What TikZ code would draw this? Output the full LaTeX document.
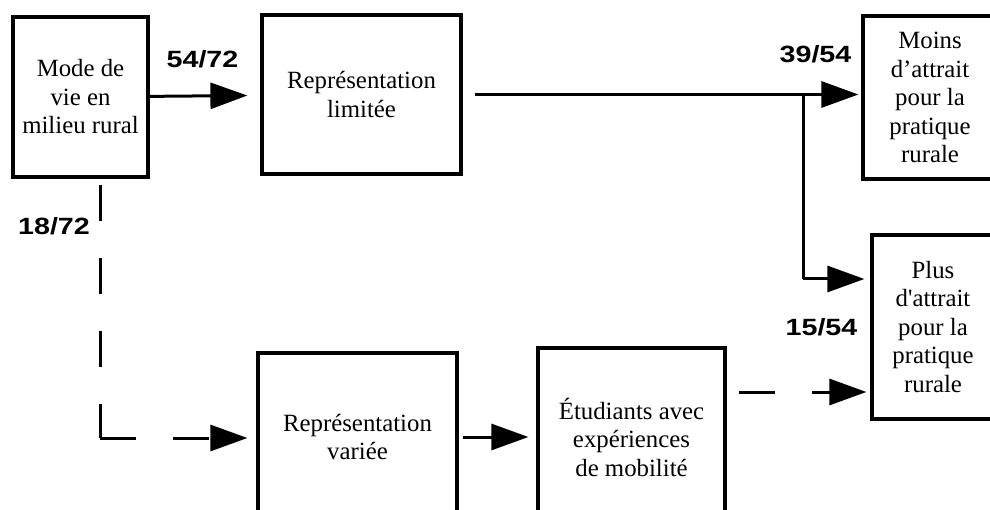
\documentclass[tikz,border=0pt]{standalone}
\usepackage{fontspec}
\setmainfont{Liberation Serif}
\newfontfamily\aposfont{Liberation Serif}
\newfontfamily\labfont[FakeStretch=1.22,UprightFont=* Bold]{Liberation Sans}
\usetikzlibrary{arrows.meta}
\begin{document}
\begin{tikzpicture}[x=1pt,y=-1pt,
  box/.style={draw, line width=3.2pt, align=center, inner sep=0pt,
    font=\fontsize{24.8}{28.5}\selectfont},
  conn/.style={line width=3pt},
  arr/.style={conn, -{Triangle[length=37pt,width=26pt]}},
  dsh/.style={dash pattern=on 36pt off 37pt},
  lab/.style={font=\labfont\fontsize{23.5}{25}\selectfont, anchor=base, inner sep=0pt}]
\clip (0,0) rectangle (990,510);
\fill[white] (0,0) rectangle (990,510);
% boxes
\node[box, minimum width=135pt, minimum height=160pt] (mode) at (80.5,97) {Mode de\\vie en\\milieu rural};
\node[box, minimum width=199pt, minimum height=159pt] (lim) at (361.5,94.5) {Représentation\\limitée};
\node[box, minimum width=134pt, minimum height=163pt] (moins) at (930,97.5) {Moins\\d’attrait\\pour la\\pratique\\rurale};
\node[box, minimum width=122pt, minimum height=184pt] (plus) at (933,327) {Plus\\d{\aposfont '}attrait\\pour la\\pratique\\rurale};
\node[box, minimum width=199pt, minimum height=168pt] (var) at (357.5,437) {Représentation\\variée};
\node[box, minimum width=187pt, minimum height=178pt] (etud) at (631.5,437) {Étudiants avec\\expériences\\de mobilité};
% connectors
\draw[arr, shorten >=13pt] (mode) -- (lim);
\draw[arr, shorten <=12pt, shorten >=3pt] (lim) -- (moins.west |- lim);
\coordinate (split) at (803,94.5);
\coordinate (pin1) at ([yshift=48pt]plus.west);
\draw[conn] (split) -- (split |- pin1);
\draw[arr, shorten >=6pt] (split |- pin1) -- (pin1);
\coordinate (c1) at (100,185);
\coordinate (c2) at (100,438);
\draw[conn, dsh] (c1) -- (c2);
\draw[arr, dsh, shorten >=9pt] (c2) -- (var.west |- c2);
\draw[arr, shorten <=4pt, shorten >=8pt] (var) -- (etud);
\coordinate (pin2) at ([yshift=-65pt]plus.west);
\draw[arr, dsh, shorten <=12pt, shorten >=4pt] (etud.east |- pin2) -- (pin2);
% labels
\node[lab] (l1) at (202.5,68) {54/72};
\node[lab] (l2) at (815.5,63) {39/54};
\node[lab] (l3) at (54,235) {18/72};
\node[lab] (l4) at (821.5,335) {15/54};
\end{tikzpicture}
\end{document}
